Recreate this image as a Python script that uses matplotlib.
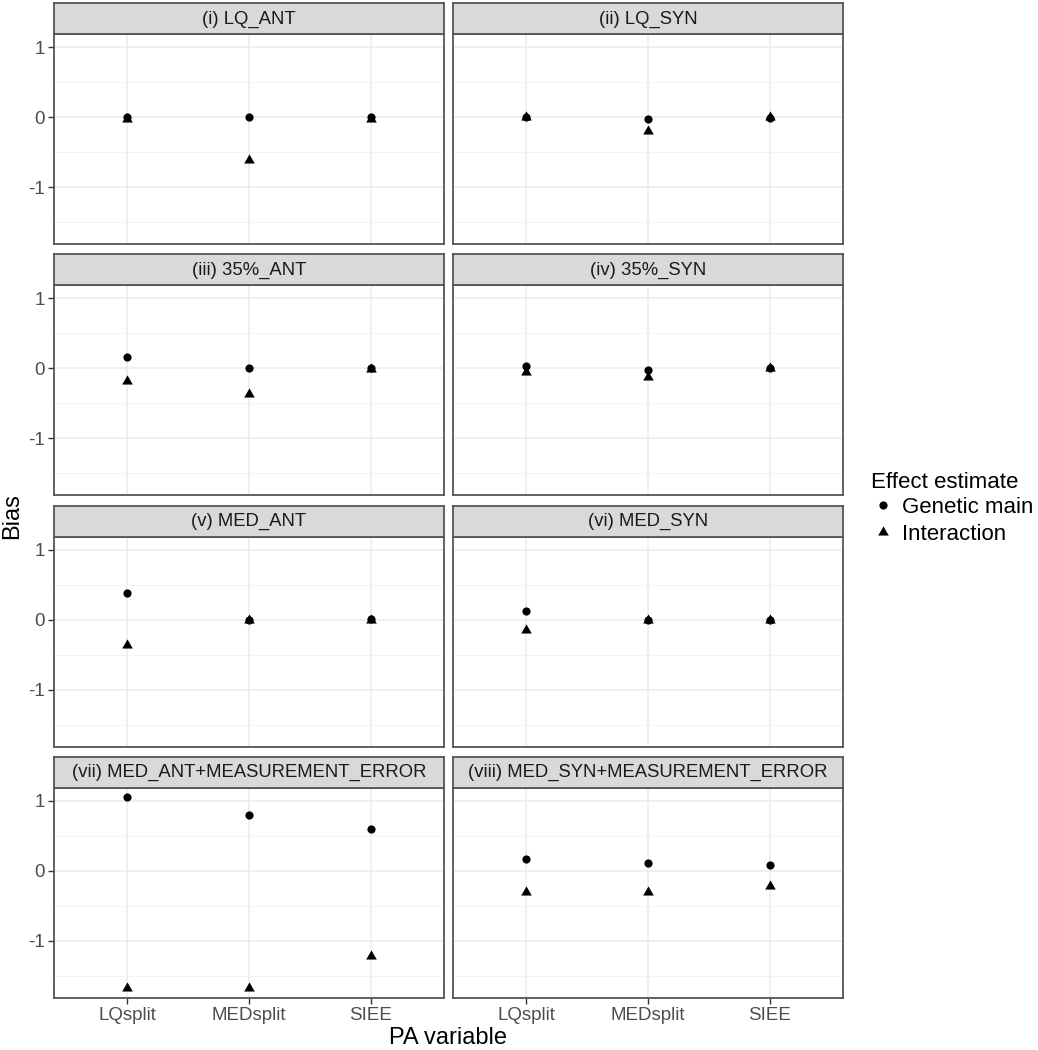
import matplotlib
matplotlib.use('Agg')
import matplotlib.pyplot as plt
from matplotlib.lines import Line2D
import numpy as np

plt.rcParams['font.family'] = ['Liberation Sans', 'DejaVu Sans']

# data ------------------------------------------------------------
methods = ['LQsplit', 'MEDsplit', 'SIEE']
titles = ['(i) LQ_ANT', '(ii) LQ_SYN',
          '(iii) 35%_ANT', '(iv) 35%_SYN',
          '(v) MED_ANT', '(vi) MED_SYN',
          '(vii) MED_ANT+MEASUREMENT_ERROR', '(viii) MED_SYN+MEASUREMENT_ERROR']
genetic_main = [[0.00, 0.01, 0.01],
                [0.00, -0.02, -0.01],
                [0.16, 0.00, 0.00],
                [0.03, -0.02, 0.00],
                [0.38, 0.00, 0.01],
                [0.12, -0.01, -0.01],
                [1.05, 0.79, 0.60],
                [0.16, 0.11, 0.08]]
interaction = [[-0.02, -0.61, -0.02],
               [0.00, -0.19, 0.01],
               [-0.18, -0.37, -0.01],
               [-0.05, -0.12, 0.00],
               [-0.37, 0.00, 0.00],
               [-0.15, -0.01, -0.01],
               [-1.67, -1.68, -1.22],
               [-0.30, -0.30, -0.22]]

W, H = 1038, 1050
fig = plt.figure(figsize=(W/100, H/100), dpi=100)

# R style filled triangle (centred on centroid)
tri = [(0, 1), (-0.866, -0.5), (0.866, -0.5)]
circ_ms = 5.9
tri_ms = 8.8

# layout in pixels
col_x = [54.3, 453.3]
pw = 389.5
row_top = [34.3, 285.4, 536.5, 787.6]
ph = 210
sh = 31

def px(x, y, w, h):
    return [x/W, 1-(y+h)/H, w/W, h/H]

xpos = np.arange(len(methods))
for k in range(8):
    r, c = k // 2, k % 2
    ax = fig.add_axes(px(col_x[c], row_top[r], pw, ph))
    ax.set_xlim(-0.6, 2.6)
    ax.set_ylim(-1.814, 1.186)
    ax.set_yticks([-1, 0, 1])
    ax.set_yticks([-1.5, -0.5, 0.5], minor=True)
    ax.set_xticks(xpos)
    ax.grid(True, which='major', color='#EBEBEB', lw=1.1, zorder=0)
    ax.grid(True, which='minor', axis='y', color='#F3F3F3', lw=0.6, zorder=0)
    ax.set_axisbelow(True)
    for s in ax.spines.values():
        s.set_color('#555555')
        s.set_linewidth(1.3)
    ax.tick_params(which='minor', length=0)
    ax.tick_params(which='major', length=4, width=1, color='#333333',
                   labelsize=13.5, labelcolor='#4D4D4D', pad=3)
    if c == 0:
        ax.set_yticklabels(['-1', '0', '1'])
    else:
        ax.tick_params(axis='y', length=0, labelleft=False)
    if r == 3:
        ax.set_xticklabels(methods)
    else:
        ax.tick_params(axis='x', length=0, labelbottom=False)
    ax.plot(xpos, genetic_main[k], 'o', color='black', ms=circ_ms,
            mew=0, zorder=3)
    ax.plot(xpos, interaction[k], marker=tri, ls='', color='black',
            ms=tri_ms, mew=0, zorder=3)

    sax = fig.add_axes(px(col_x[c], row_top[r]-sh, pw, sh))
    sax.set_facecolor('#D9D9D9')
    sax.set_xticks([]); sax.set_yticks([])
    for s in sax.spines.values():
        s.set_color('#555555')
        s.set_linewidth(1.3)
    sax.text(0.5, 0.48, titles[k], ha='center', va='center', fontsize=13.3,
             color='#1A1A1A', transform=sax.transAxes)

# axis titles
fig.text(12/W, 1-516/H, 'Bias', rotation=90, ha='center', va='center',
         fontsize=17)
fig.text(448/W, 1-1038/H, 'PA variable', ha='center', va='center',
         fontsize=17)

# legend
fig.text(871/W, 1-482/H, 'Effect estimate', ha='left', va='center',
         fontsize=16)
handles = [Line2D([], [], marker='o', ls='', color='black', ms=circ_ms, mew=0),
           Line2D([], [], marker=tri, ls='', color='black', ms=tri_ms, mew=0)]
leg = fig.legend(handles, ['Genetic main', 'Interaction'],
                 loc='upper left', bbox_to_anchor=(872/W, 1-497/H),
                 frameon=False, fontsize=16, handlelength=1.0,
                 handletextpad=0.35, labelspacing=0.25, borderpad=0,
                 borderaxespad=0)

fig.savefig('out.png', dpi=100, facecolor='white')
